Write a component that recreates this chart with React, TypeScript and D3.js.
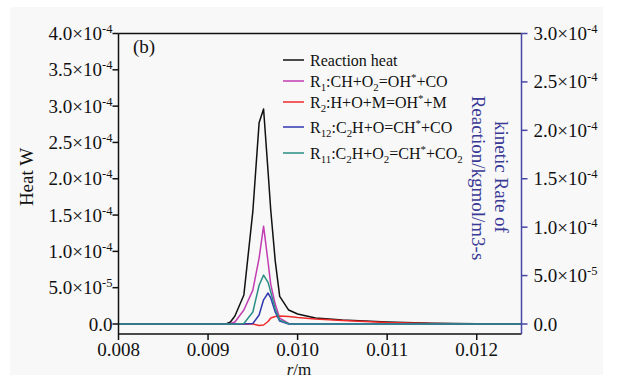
import React from "react";
import * as d3 from "d3";

const W = 617;
const H = 380;

// radial positions (m)
const rValues = [
  0.008, 0.009, 0.0092, 0.00925, 0.0093, 0.0094, 0.0095, 0.00957, 0.00962, 0.00967,
  0.0097, 0.00975, 0.0098, 0.0099, 0.01, 0.0102, 0.0105, 0.011, 0.0115, 0.012, 0.0125,
];

// reaction heat (W), left axis
const reactionHeat = [
  0, 0, 0.2e-6, 2.7e-6, 1.1e-5, 4.0e-5, 1.55e-4, 2.77e-4, 2.96e-4, 2.1e-4,
  1.57e-4, 8.7e-5, 3.8e-5, 1.92e-5, 1.37e-5, 8.2e-6, 5.5e-6, 2.7e-6, 1.0e-6, 0.3e-6, 0,
];

// kinetic rates (kgmol/m3-s), right axis
const rateR1 = [
  0, 0, 0, 0.5e-6, 2e-6, 1.44e-5, 3.5e-5, 6.8e-5, 1.01e-4, 6.4e-5,
  4.1e-5, 2.06e-5, 6e-6, 0.5e-6, 0, 0, 0, 0, 0, 0, 0,
];
const rateR2 = [
  0, 0, 0, 0, 0, 0, 0, -1.5e-6, -1.0e-6, 2.6e-6,
  6.2e-6, 7.7e-6, 8.2e-6, 7.7e-6, 6.7e-6, 5.2e-6, 3.6e-6, 1.5e-6, 0.5e-6, 0, 0,
];
const rateR12 = [
  0, 0, 0, 0, 0, 0, 0.5e-6, 9.3e-6, 2.5e-5, 3.2e-5,
  2.7e-5, 1.24e-5, 3e-6, 0, 0, 0, 0, 0, 0, 0, 0,
];
const rateR11 = [
  0, 0, 0, 0, 0, 0.5e-6, 1.24e-5, 4.0e-5, 5.05e-5, 4.3e-5,
  3.3e-5, 1.55e-5, 4e-6, 0.3e-6, 0, 0, 0, 0, 0, 0, 0,
];

const xTicks = [0.008, 0.009, 0.01, 0.011, 0.012];
const xTickLabels = ["0.008", "0.009", "0.010", "0.011", "0.012"];
const leftTicks = [0, 5e-5, 1e-4, 1.5e-4, 2e-4, 2.5e-4, 3e-4, 3.5e-4, 4e-4];
const rightTicks = [0, 5e-5, 1e-4, 1.5e-4, 2e-4, 2.5e-4, 3e-4];

type Seg = { t: string; sub?: boolean; sup?: boolean };

const legendLabels: Seg[][] = [
  [{ t: "Reaction heat" }],
  [{ t: "R" }, { t: "1", sub: true }, { t: ":CH+O" }, { t: "2", sub: true }, { t: "=OH" }, { t: "*", sup: true }, { t: "+CO" }],
  [{ t: "R" }, { t: "2", sub: true }, { t: ":H+O+M=OH" }, { t: "*", sup: true }, { t: "+M" }],
  [{ t: "R" }, { t: "12", sub: true }, { t: ":C" }, { t: "2", sub: true }, { t: "H+O=CH" }, { t: "*", sup: true }, { t: "+CO" }],
  [{ t: "R" }, { t: "11", sub: true }, { t: ":C" }, { t: "2", sub: true }, { t: "H+O" }, { t: "2", sub: true }, { t: "=CH" }, { t: "*", sup: true }, { t: "+CO" }, { t: "2", sub: true }],
];
const seriesColors = ["#111111", "#c23cb2", "#f02a2a", "#3038b0", "#2b8e86"];
const seriesData = [reactionHeat, rateR1, rateR2, rateR12, rateR11];
const seriesAxis = ["left", "right", "right", "right", "right"];
const legendY = [60, 81, 102, 127, 153];

const FONT = "'Liberation Serif', 'Times New Roman', serif";
const AXIS_BLUE = "#4646a6";
const TITLE_BLUE = "#3a3a96";

const x0 = 118.5;
const x1 = 521.5;
const yTop = 33.5;
const yBot = 334;
const yZero = 324;

const xScale = d3.scaleLinear().domain([0.008, 0.0125]).range([x0, x1]);
const yLeft = d3.scaleLinear().domain([0, 4e-4]).range([yZero, yTop]);
const yRight = d3.scaleLinear().domain([0, 3e-4]).range([yZero, yTop]);

function sciParts(v: number): [string, string | null] {
  if (v === 0) return ["0.0", null];
  const e = Math.floor(Math.log10(v) + 1e-9);
  const m = v / Math.pow(10, e);
  return [m.toFixed(1), String(e)];
}

function RichText({ segs, x, y, size, fill }: { segs: Seg[]; x: number; y: number; size: number; fill: string }) {
  let prev = 0;
  return (
    <text x={x} y={y} fontFamily={FONT} fontSize={size} fill={fill}>
      {segs.map((s, i) => {
        const shift = s.sub ? 4 : s.sup ? -6 : 0;
        const dy = shift - prev;
        prev = shift;
        return (
          <tspan key={i} dy={dy} fontSize={s.sub || s.sup ? size * 0.68 : size}>
            {s.t}
          </tspan>
        );
      })}
    </text>
  );
}

function TickLabel({ v, x, y, anchor }: { v: number; x: number; y: number; anchor: "start" | "end" }) {
  const [m, e] = sciParts(v);
  return (
    <text x={x} y={y} textAnchor={anchor} fontFamily={FONT} fontSize={19} fill="#111">
      {e === null ? (
        m
      ) : (
        <>
          {m}×10
          <tspan dy={-7} fontSize={12.5}>
            {e}
          </tspan>
        </>
      )}
    </text>
  );
}

export default function App() {
  const paths = seriesData.map((vals, i) => {
    const ys = seriesAxis[i] === "left" ? yLeft : yRight;
    const line = d3
      .line<number>()
      .x((_, j) => xScale(rValues[j]))
      .y((d) => ys(d));
    return line(vals) || "";
  });

  return (
    <svg width={W} height={H} style={{ position: "absolute", left: 0, top: 0, display: "block" }}>
      <rect x={0} y={0} width={W} height={H} fill="#ffffff" />
      <rect x={10} y={7} width={593} height={368} fill="#f8f8f8" />

      {/* data lines */}
      {paths.map((d, i) => (
        <path key={i} d={d} fill="none" stroke={seriesColors[i]} strokeWidth={1.5} strokeLinejoin="round" />
      ))}

      {/* frame */}
      <line x1={x0} x2={x1} y1={yTop} y2={yTop} stroke="#111" strokeWidth={1.5} />
      <line x1={x0} x2={x1} y1={yBot} y2={yBot} stroke="#111" strokeWidth={1.5} />
      <line x1={x0} x2={x0} y1={yTop} y2={yBot} stroke="#111" strokeWidth={1.5} />
      <line x1={x1} x2={x1} y1={yTop} y2={yBot} stroke={AXIS_BLUE} strokeWidth={1.5} />

      {/* left axis */}
      {leftTicks.map((v, i) => (
        <g key={i}>
          <line x1={x0 - 6} x2={x0} y1={yLeft(v)} y2={yLeft(v)} stroke="#111" strokeWidth={1.5} />
          <TickLabel v={v} x={x0 - 6} y={yLeft(v) + 6.5} anchor="end" />
        </g>
      ))}

      {/* right axis */}
      {rightTicks.map((v, i) => (
        <g key={i}>
          <line x1={x1} x2={x1 + 6} y1={yRight(v)} y2={yRight(v)} stroke={AXIS_BLUE} strokeWidth={1.5} />
          <TickLabel v={v} x={x1 + 12} y={yRight(v) + 6.5} anchor="start" />
        </g>
      ))}

      {/* bottom axis */}
      {xTicks.map((v, i) => (
        <g key={i}>
          <line x1={xScale(v)} x2={xScale(v)} y1={yBot} y2={yBot + 6} stroke="#111" strokeWidth={1.5} />
          <text x={xScale(v)} y={356} textAnchor="middle" fontFamily={FONT} fontSize={19} fill="#111">
            {xTickLabels[i]}
          </text>
        </g>
      ))}

      {/* axis titles */}
      <text x={299} y={375} textAnchor="middle" fontFamily={FONT} fontSize={17} fill="#111">
        <tspan fontStyle="italic">r</tspan>/m
      </text>
      <text transform="translate(33,177) rotate(-90)" textAnchor="middle" fontFamily={FONT} fontSize={19} fill="#111">
        Heat W
      </text>
      <text transform="translate(495,177) rotate(90)" textAnchor="middle" fontFamily={FONT} fontSize={19} fill={TITLE_BLUE}>
        kinetic Rate of
      </text>
      <text transform="translate(472,178) rotate(90)" textAnchor="middle" fontFamily={FONT} fontSize={19} fill={TITLE_BLUE}>
        Reaction/kgmol/m3-s
      </text>

      <text x={133} y={53} fontFamily={FONT} fontSize={19} fill="#111">
        (b)
      </text>

      {/* legend */}
      {legendLabels.map((segs, i) => (
        <g key={i}>
          <line x1={283} x2={304} y1={legendY[i]} y2={legendY[i]} stroke={seriesColors[i]} strokeWidth={1.5} />
          <RichText segs={segs} x={310} y={legendY[i] + 5.5} size={16} fill="#111" />
        </g>
      ))}
    </svg>
  );
}
